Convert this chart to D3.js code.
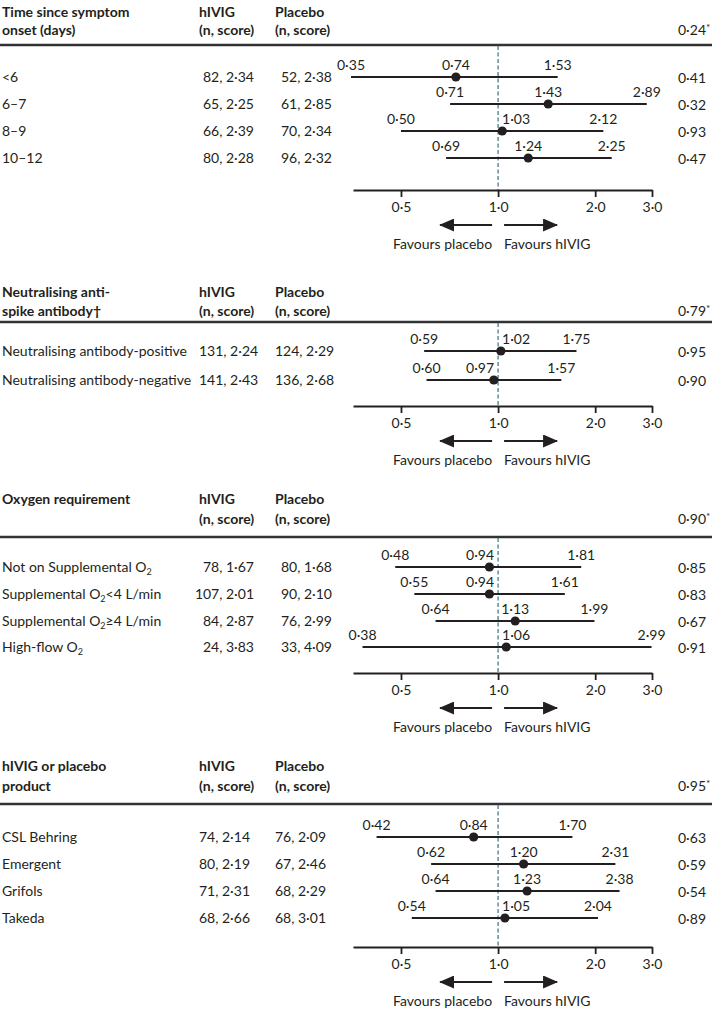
<!DOCTYPE html>
<html><head><meta charset="utf-8">
<script src="https://cdn.jsdelivr.net/npm/d3@7"></script>
<style>
body{margin:0;background:#fff;}
svg text{font-family:Lato,"Open Sans",sans-serif;fill:#231f20;}
</style></head>
<body><svg id="c" width="712" height="1009"></svg>
<script>
// ---------- DATA ----------
const tickValues = [0.5, 1, 2, 3];
const tickLabels = ["0·5", "1·0", "2·0", "3·0"];

const timeTitle = ["Time since symptom", "onset (days)"];
const timeGroups = ["<6", "6–7", "8–9", "10–12"];
const timeHivigN = [82, 65, 66, 80];
const timeHivigScore = [2.34, 2.25, 2.39, 2.28];
const timePlaceboN = [52, 61, 70, 96];
const timePlaceboScore = [2.38, 2.85, 2.34, 2.32];
const timeOR = [0.74, 1.43, 1.03, 1.24];
const timeLow = [0.35, 0.71, 0.50, 0.69];
const timeHigh = [1.53, 2.89, 2.12, 2.25];
const timeP = [0.41, 0.32, 0.93, 0.47];
const timeInteractionP = 0.24;

const abTitle = ["Neutralising anti-", "spike antibody†"];
const abGroups = ["Neutralising antibody-positive", "Neutralising antibody-negative"];
const abHivigN = [131, 141];
const abHivigScore = [2.24, 2.43];
const abPlaceboN = [124, 136];
const abPlaceboScore = [2.29, 2.68];
const abOR = [1.02, 0.97];
const abLow = [0.59, 0.60];
const abHigh = [1.75, 1.57];
const abP = [0.95, 0.90];
const abInteractionP = 0.79;

const o2Title = ["Oxygen requirement", ""];
const o2Groups = [["Not on Supplemental O", "2", ""], ["Supplemental O", "2", "<4 L/min"], ["Supplemental O", "2", "≥4 L/min"], ["High-flow O", "2", ""]];
const o2HivigN = [78, 107, 84, 24];
const o2HivigScore = [1.67, 2.01, 2.87, 3.83];
const o2PlaceboN = [80, 90, 76, 33];
const o2PlaceboScore = [1.68, 2.10, 2.99, 4.09];
const o2OR = [0.94, 0.94, 1.13, 1.06];
const o2Low = [0.48, 0.55, 0.64, 0.38];
const o2High = [1.81, 1.61, 1.99, 2.99];
const o2P = [0.85, 0.83, 0.67, 0.91];
const o2InteractionP = 0.90;

const prodTitle = ["hIVIG or placebo", "product"];
const prodGroups = ["CSL Behring", "Emergent", "Grifols", "Takeda"];
const prodHivigN = [74, 80, 71, 68];
const prodHivigScore = [2.14, 2.19, 2.31, 2.66];
const prodPlaceboN = [76, 67, 68, 68];
const prodPlaceboScore = [2.09, 2.46, 2.29, 3.01];
const prodOR = [0.84, 1.20, 1.23, 1.05];
const prodLow = [0.42, 0.62, 0.64, 0.54];
const prodHigh = [1.70, 2.31, 2.38, 2.04];
const prodP = [0.63, 0.59, 0.54, 0.89];
const prodInteractionP = 0.95;

// ---------- LAYOUT ----------
const INK = "#231f20";
const FS = 14;
const fmt = v => d3.format(".2f")(v).replace(".", "·");
const x = d3.scaleLog().domain([0.355, 3]).range([353, 652]);
const svg = d3.select("#c");

const sections = [
  {title: timeTitle, groups: timeGroups, hn: timeHivigN, hs: timeHivigScore, pn: timePlaceboN, ps: timePlaceboScore,
   or: timeOR, lo: timeLow, hi: timeHigh, p: timeP, ip: timeInteractionP,
   rule: 45, h1: 16.5, h2: 34.5, rows: [77, 104, 131, 158], axis: 190, right: true},
  {title: abTitle, groups: abGroups, hn: abHivigN, hs: abHivigScore, pn: abPlaceboN, ps: abPlaceboScore,
   or: abOR, lo: abLow, hi: abHigh, p: abP, ip: abInteractionP,
   rule: 322, h1: 296.5, h2: 315.5, rows: [351, 380], axis: 406, right: false},
  {title: o2Title, groups: o2Groups, hn: o2HivigN, hs: o2HivigScore, pn: o2PlaceboN, ps: o2PlaceboScore,
   or: o2OR, lo: o2Low, hi: o2High, p: o2P, ip: o2InteractionP,
   rule: 537, h1: 503.5, h2: 523.5, rows: [567, 594, 621, 647], axis: 673, right: true},
  {title: prodTitle, groups: prodGroups, hn: prodHivigN, hs: prodHivigScore, pn: prodPlaceboN, ps: prodPlaceboScore,
   or: prodOR, lo: prodLow, hi: prodHigh, p: prodP, ip: prodInteractionP,
   rule: 804, h1: 770.5, h2: 790.5, rows: [837, 864, 891, 918], axis: 947, right: false}
];

// arrow marker
const defs = svg.append("defs");
defs.append("marker").attr("id", "ah").attr("viewBox", "0 0 15 13").attr("refX", 14).attr("refY", 6.5)
  .attr("markerWidth", 15).attr("markerHeight", 13).attr("markerUnits", "userSpaceOnUse").attr("orient", "auto")
  .append("path").attr("d", "M0,0 L15,6.5 L0,13 Z").attr("fill", INK);

const x1 = x(1);

sections.forEach(s => {
  const g = svg.append("g");
  // headers
  g.append("text").attr("x", 2).attr("y", s.h1).attr("font-size", FS).attr("font-weight", 700).text(s.title[0]);
  if (s.title[1]) g.append("text").attr("x", 2).attr("y", s.h2).attr("font-size", FS).attr("font-weight", 700).text(s.title[1]);
  g.append("text").attr("x", 199).attr("y", s.h1).attr("font-size", FS).attr("font-weight", 700).text("hIVIG");
  g.append("text").attr("x", 199).attr("y", s.h2).attr("font-size", FS).attr("font-weight", 700).text("(n, score)");
  g.append("text").attr("x", 275).attr("y", s.h1).attr("font-size", FS).attr("font-weight", 700).text("Placebo");
  g.append("text").attr("x", 275).attr("y", s.h2).attr("font-size", FS).attr("font-weight", 700).text("(n, score)");
  const ipt = g.append("text").attr("x", 678).attr("y", s.h2).attr("font-size", FS);
  ipt.append("tspan").text(fmt(s.ip));
  ipt.append("tspan").attr("font-size", 10).attr("dy", -4).text("*");

  // rule
  g.append("line").attr("x1", 0).attr("x2", 712).attr("y1", s.rule).attr("y2", s.rule)
    .attr("stroke", "#333").attr("stroke-width", 2.4);

  // reference line
  g.append("line").attr("x1", x1).attr("x2", x1).attr("y1", s.rule + 1).attr("y2", s.axis)
    .attr("stroke", "#4a7d8c").attr("stroke-width", 1.3).attr("stroke-dasharray", "4,2.5");

  s.groups.forEach((name, i) => {
    const y = s.rows[i];
    const t = g.append("text").attr("x", 2).attr("y", y + 5).attr("font-size", FS);
    if (Array.isArray(name)) {
      t.append("tspan").text(name[0]);
      t.append("tspan").attr("font-size", 9).attr("dy", 3).text(name[1]);
      if (name[2]) t.append("tspan").attr("dy", -3).text(name[2]);
    } else t.text(name);
    const hv = `${s.hn[i]}, ${fmt(s.hs[i])}`, pv = `${s.pn[i]}, ${fmt(s.ps[i])}`;
    if (s.right) {
      g.append("text").attr("x", 254).attr("y", y + 5).attr("font-size", FS).attr("text-anchor", "end").text(hv);
      g.append("text").attr("x", 332).attr("y", y + 5).attr("font-size", FS).attr("text-anchor", "end").text(pv);
    } else {
      g.append("text").attr("x", 199).attr("y", y + 5).attr("font-size", FS).text(hv);
      g.append("text").attr("x", 275).attr("y", y + 5).attr("font-size", FS).text(pv);
    }
    g.append("text").attr("x", 678).attr("y", y + 5.5).attr("font-size", FS).text(fmt(s.p[i]));

    // CI line and point
    g.append("line").attr("x1", x(s.lo[i])).attr("x2", x(s.hi[i])).attr("y1", y).attr("y2", y)
      .attr("stroke", INK).attr("stroke-width", 1.8);
    g.append("circle").attr("cx", x(s.or[i])).attr("cy", y).attr("r", 4.6).attr("fill", INK);

    // value labels
    [s.lo[i], s.or[i], s.hi[i]].forEach(v => {
      const cx = x(v), half = 14;
      let anchor = "middle", tx = cx;
      if (Math.abs(cx - x1) < half + 3) {
        if (v >= 1) { anchor = "start"; tx = x1 + 4; } else { anchor = "end"; tx = x1 - 4; }
      }
      g.append("text").attr("x", tx).attr("y", y - 7).attr("font-size", FS).attr("text-anchor", anchor).text(fmt(v));
    });
  });

  // axis
  const ax = g.append("g").attr("transform", `translate(0,${s.axis})`)
    .call(d3.axisBottom(x).tickValues(tickValues).tickSize(7).tickSizeOuter(0).tickPadding(5)
      .tickFormat((d, i) => tickLabels[i]));
  ax.select(".domain").attr("stroke", INK).attr("stroke-width", 1.8);
  ax.selectAll(".tick line").attr("stroke", INK).attr("stroke-width", 1.8);
  ax.selectAll(".tick text").attr("font-size", FS).attr("font-family", "Lato, 'Open Sans', sans-serif").attr("fill", INK);

  // favours arrows
  const ay = s.axis + 35;
  g.append("line").attr("x1", x1 - 6).attr("x2", x1 - 58).attr("y1", ay).attr("y2", ay)
    .attr("stroke", INK).attr("stroke-width", 1.8).attr("marker-end", "url(#ah)");
  g.append("line").attr("x1", x1 + 6).attr("x2", x1 + 59).attr("y1", ay).attr("y2", ay)
    .attr("stroke", INK).attr("stroke-width", 1.8).attr("marker-end", "url(#ah)");
  g.append("text").attr("x", x1 - 6).attr("y", s.axis + 59).attr("font-size", FS).attr("text-anchor", "end").text("Favours placebo");
  g.append("text").attr("x", x1 + 6).attr("y", s.axis + 59).attr("font-size", FS).text("Favours hIVIG");
});
</script></body></html>
